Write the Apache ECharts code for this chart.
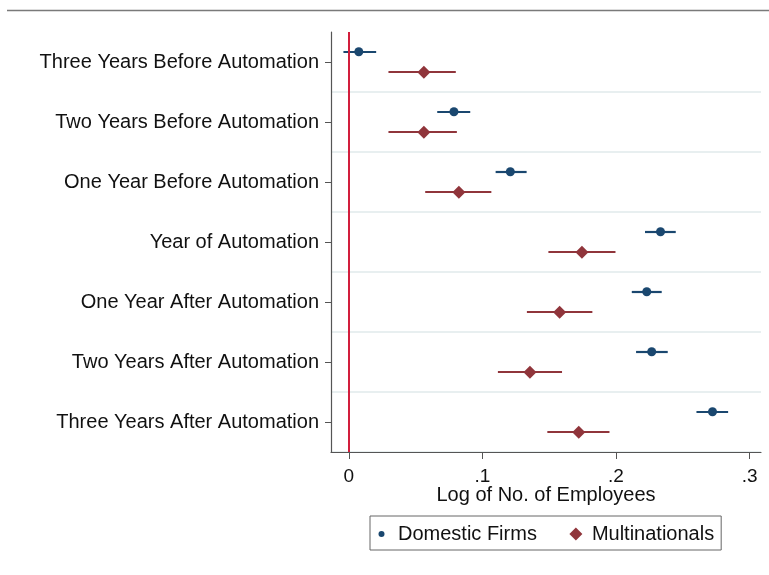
<!DOCTYPE html>
<html>
<head>
<meta charset="utf-8">
<script src="https://cdn.jsdelivr.net/npm/echarts@6/dist/echarts.min.js"></script>
<style>
html,body{margin:0;padding:0;background:#fff;}
#chart{width:769px;height:575px;}
</style>
</head>
<body>
<div id="chart"></div>
<script>
const categories = [
  'Three Years Before Automation',
  'Two Years Before Automation',
  'One Year Before Automation',
  'Year of Automation',
  'One Year After Automation',
  'Two Years After Automation',
  'Three Years After Automation'
];
const domesticEst = [0.0075, 0.0787, 0.1209, 0.2333, 0.2230, 0.2267, 0.2722];
const domesticLo  = [-0.0040, 0.0662, 0.1099, 0.2217, 0.2118, 0.2150, 0.2602];
const domesticHi  = [0.0205, 0.0909, 0.1331, 0.2447, 0.2342, 0.2387, 0.2839];
const multiEst = [0.0562, 0.0562, 0.0824, 0.1745, 0.1578, 0.1356, 0.1721];
const multiLo  = [0.0297, 0.0297, 0.0572, 0.1494, 0.1333, 0.1116, 0.1486];
const multiHi  = [0.0801, 0.0809, 0.1067, 0.1996, 0.1823, 0.1596, 0.1951];
const xTicks = [0, 0.1, 0.2, 0.3];
const xTickLabels = ['0', '.1', '.2', '.3'];
const seriesNames = ['Domestic Firms', 'Multinationals'];

const FONT = "'Liberation Sans', Arial, sans-serif";
const C_DOM = '#1a476f';
const C_MNE = '#90353b';
const OFF_DOM = -10.3;
const OFF_MNE = 10.3;

function ciSeries(lo, hi, color, off) {
  return {
    type: 'custom',
    silent: true,
    z: 2,
    data: lo.map((v, i) => [v, hi[i], i]),
    encode: { x: [0, 1], y: 2 },
    renderItem: function (params, api) {
      const a = api.coord([api.value(0), api.value(2)]);
      const b = api.coord([api.value(1), api.value(2)]);
      const y = Math.round(a[1] + off);
      return {
        type: 'line',
        shape: { x1: a[0], y1: y, x2: b[0], y2: y },
        style: { stroke: color, lineWidth: 2.2, opacity: 1 }
      };
    }
  };
}

const chart = echarts.init(document.getElementById('chart'), null, { renderer: 'canvas' });
chart.setOption({
  animation: false,
  backgroundColor: '#fff',
  textStyle: { fontFamily: FONT },
  graphic: [{
    type: 'line',
    shape: { x1: 7, y1: 10.5, x2: 769, y2: 10.5 },
    style: { stroke: '#7a7a7a', lineWidth: 1.5 }
  }],
  grid: { left: 331, top: 32, width: 430, height: 420, containLabel: false },
  legend: {
    left: 370, top: 516,
    orient: 'horizontal',
    padding: [8, 7, 6, 5],
    itemGap: 32,
    itemWidth: 18, itemHeight: 14,
    borderColor: '#666', borderWidth: 1,
    textStyle: { fontSize: 20, color: '#111', fontFamily: FONT },
    data: [
      { name: seriesNames[0], icon: 'path://M0 0M18 14M9.5 7a3 3 0 1 0 -6 0a3 3 0 1 0 6 0Z' },
      { name: seriesNames[1], icon: 'path://M0 0M18 14M7 0.5L13.5 7L7 13.5L0.5 7Z' }
    ]
  },
  xAxis: {
    type: 'value',
    min: -0.0133, max: 0.3085,
    name: 'Log of No. of Employees',
    nameLocation: 'middle',
    nameGap: 33,
    nameMoveOverlap: false,
    nameTextStyle: { fontSize: 20, color: '#111', fontFamily: FONT },
    axisLine: { show: true, onZero: false, lineStyle: { color: '#555', width: 1.2 } },
    axisTick: { show: true, length: 7, lineStyle: { color: '#555' }, customValues: xTicks },
    axisLabel: {
      customValues: xTicks,
      fontSize: 19, color: '#111', margin: 15, fontFamily: FONT,
      formatter: function (v) {
        const i = xTicks.findIndex(t => Math.abs(t - v) < 1e-9);
        return i >= 0 ? xTickLabels[i] : '';
      }
    },
    splitLine: { show: false }
  },
  yAxis: {
    type: 'category',
    inverse: true,
    data: categories,
    axisLine: { show: true, onZero: false, lineStyle: { color: '#555', width: 1.2 } },
    axisTick: { show: true, alignWithLabel: true, length: 6, lineStyle: { color: '#555' } },
    axisLabel: { fontSize: 20, color: '#111', margin: 12, fontFamily: FONT },
    splitLine: {
      show: true,
      interval: function (i) { return i !== 0; },
      lineStyle: { color: '#e8eff0', width: 2 }
    }
  },
  series: [
    ciSeries(domesticLo, domesticHi, C_DOM, OFF_DOM),
    ciSeries(multiLo, multiHi, C_MNE, OFF_MNE),
    {
      name: seriesNames[0],
      type: 'scatter',
      z: 3,
      symbol: 'circle',
      symbolSize: 9,
      symbolOffset: [0, OFF_DOM],
      itemStyle: { color: C_DOM, opacity: 1 },
      data: domesticEst.map((v, i) => [v, i]),
      markLine: {
        silent: true,
        symbol: ['none', 'none'],
        label: { show: false },
        lineStyle: { color: '#d21e3c', width: 2, type: 'solid', opacity: 1 },
        data: [{ xAxis: 0 }]
      }
    },
    {
      name: seriesNames[1],
      type: 'scatter',
      z: 3,
      symbol: 'diamond',
      symbolSize: [13, 13],
      symbolOffset: [0, OFF_MNE],
      itemStyle: { color: C_MNE, opacity: 1 },
      data: multiEst.map((v, i) => [v, i])
    }
  ]
});
</script>
</body>
</html>
